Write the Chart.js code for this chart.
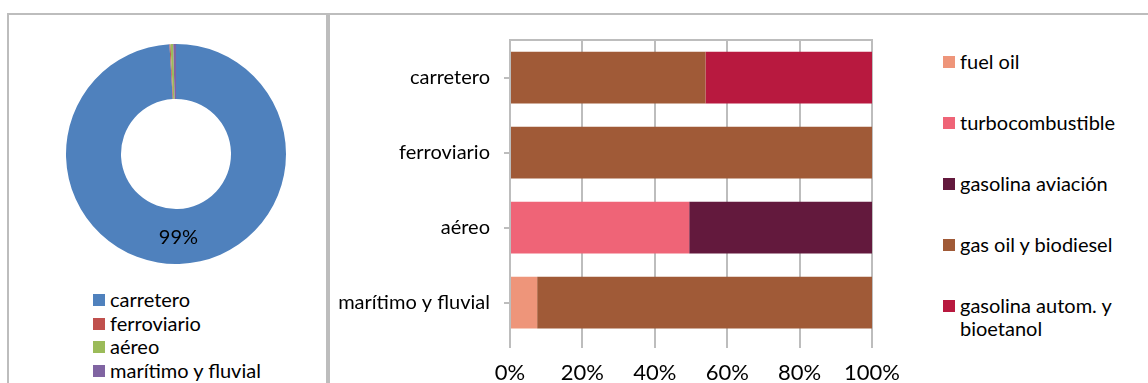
<!DOCTYPE html>
<html>
<head>
<meta charset="utf-8">
<script src="https://cdn.jsdelivr.net/npm/chart.js@4.4.0/dist/chart.umd.min.js"></script>
<style>
  body { margin: 0; width: 1148px; height: 383px; overflow: hidden; background: #fff; font-family: Lato, "Open Sans", sans-serif; color: #000; }
  .panel { position: absolute; top: 13px; height: 380px; border: 2px solid #bdbdbd; border-bottom: none; box-sizing: border-box; }
  #p1 { left: 7px; width: 321px; }
  #p2 { left: 328px; width: 830px; }
  canvas { position: absolute; }
  #donut { left: 66px; top: 44px; }
  #bars { left: 330px; top: 14px; }
  .legend { position: absolute; font-size: 20px; line-height: 23.5px; }
  .legend .item { position: relative; padding-left: 17px; white-space: nowrap; }
  .legend .sw { position: absolute; left: 0; top: 6px; width: 12px; height: 12px; }
  #donutLegend { left: 93px; top: 288px; }
  #barLegend { left: 943px; top: 50px; line-height: 23px; }
  #barLegend .item { height: 61px; white-space: normal; width: 180px; }
</style>
</head>
<body>
<div class="panel" id="p1"></div>
<div class="panel" id="p2"></div>
<canvas id="donut" width="220" height="220"></canvas>
<div class="legend" id="donutLegend"></div>
<canvas id="bars" width="582" height="369"></canvas>
<div class="legend" id="barLegend"></div>
<script>
const modes = ["carretero", "ferroviario", "aéreo", "marítimo y fluvial"];
const modeShares = [99.05, 0.15, 0.4, 0.4];
const modeColors = ["#4f81bd", "#c0504d", "#9bbb59", "#8064a2"];

const fuels = ["fuel oil", "turbocombustible", "gasolina aviación", "gas oil y biodiesel", "gasolina autom. y bioetanol"];
const fuelColors = ["#ee957a", "#ef6477", "#63193d", "#a05a37", "#b8193f"];
// share of each fuel per mode, same order as modes
const fuelOil = [0, 0, 0, 7.5];
const turbo = [0, 0, 49.5, 0];
const gasAviacion = [0, 0, 50.5, 0];
const gasOil = [54, 100, 0, 92.5];
const gasolinaAutom = [46, 0, 0, 0];
const xTicks = [0, 20, 40, 60, 80, 100];

const FONT = "Lato, 'Open Sans', sans-serif";
const GRID = "#bdbdbd";

const donutLabel = {
  id: "donutLabel",
  afterDatasetsDraw(chart) {
    const ctx = chart.ctx;
    const data = chart.data.datasets[0].data;
    const total = data.reduce((a, b) => a + b, 0);
    ctx.save();
    ctx.font = "20px " + FONT;
    ctx.fillStyle = "#000";
    ctx.textAlign = "center";
    ctx.textBaseline = "middle";
    chart.getDatasetMeta(0).data.forEach((arc, i) => {
      const pct = data[i] / total * 100;
      if (pct < 5) return;
      const p = arc.tooltipPosition();
      ctx.fillText(Math.round(pct) + "%", p.x, p.y + 1);
    });
    ctx.restore();
  },
};

new Chart(document.getElementById("donut").getContext("2d"), {
  type: "doughnut",
  data: { labels: modes, datasets: [{ data: modeShares, backgroundColor: modeColors, borderWidth: 0 }] },
  options: {
    responsive: false,
    animation: false,
    cutout: "50%",
    events: [],
    plugins: { legend: { display: false }, tooltip: { enabled: false } },
  },
  plugins: [donutLabel],
});

const fuelSeries = [fuelOil, turbo, gasAviacion, gasOil, gasolinaAutom];

new Chart(document.getElementById("bars").getContext("2d"), {
  type: "bar",
  data: {
    labels: modes,
    datasets: fuels.map((f, i) => ({
      label: f,
      data: fuelSeries[i],
      backgroundColor: fuelColors[i],
      borderWidth: 0,
      categoryPercentage: 1,
      barPercentage: 0.69,
    })),
  },
  options: {
    indexAxis: "y",
    responsive: false,
    animation: false,
    events: [],
    layout: { padding: { top: 24, right: 24, left: 0, bottom: 0 } },
    plugins: { legend: { display: false }, tooltip: { enabled: false } },
    scales: {
      x: {
        stacked: true,
        min: 0,
        max: 100,
        afterBuildTicks: (s) => { s.ticks = xTicks.map((v) => ({ value: v })); },
        afterFit: (s) => { s.height = 43; },
        grid: { color: GRID, lineWidth: 2, tickLength: 8 },
        border: { display: false },
        ticks: { color: "#000", font: { family: FONT, size: 22 }, padding: 12, maxRotation: 0, callback: (v) => v + "%" },
      },
      x2: {
        position: "top",
        min: 0,
        max: 100,
        afterFit: (s) => { s.height = 0; },
        grid: { display: false, drawTicks: false },
        ticks: { display: false },
        border: { display: true, color: GRID, width: 2 },
      },
      y: {
        stacked: true,
        afterFit: (s) => { s.width = 180; },
        grid: { offset: false, drawOnChartArea: false, color: GRID, lineWidth: 2, tickLength: 6 },
        border: { display: true, color: GRID, width: 2 },
        ticks: { color: "#000", font: { family: FONT, size: 20 }, padding: 14 },
      },
    },
  },
});

function buildLegend(el, names, colors) {
  el.innerHTML = names.map((n, i) =>
    `<div class="item"><span class="sw" style="background:${colors[i]}"></span>${n}</div>`).join("");
}
buildLegend(document.getElementById("donutLegend"), modes, modeColors);
buildLegend(document.getElementById("barLegend"), fuels, fuelColors);
</script>
</body>
</html>
